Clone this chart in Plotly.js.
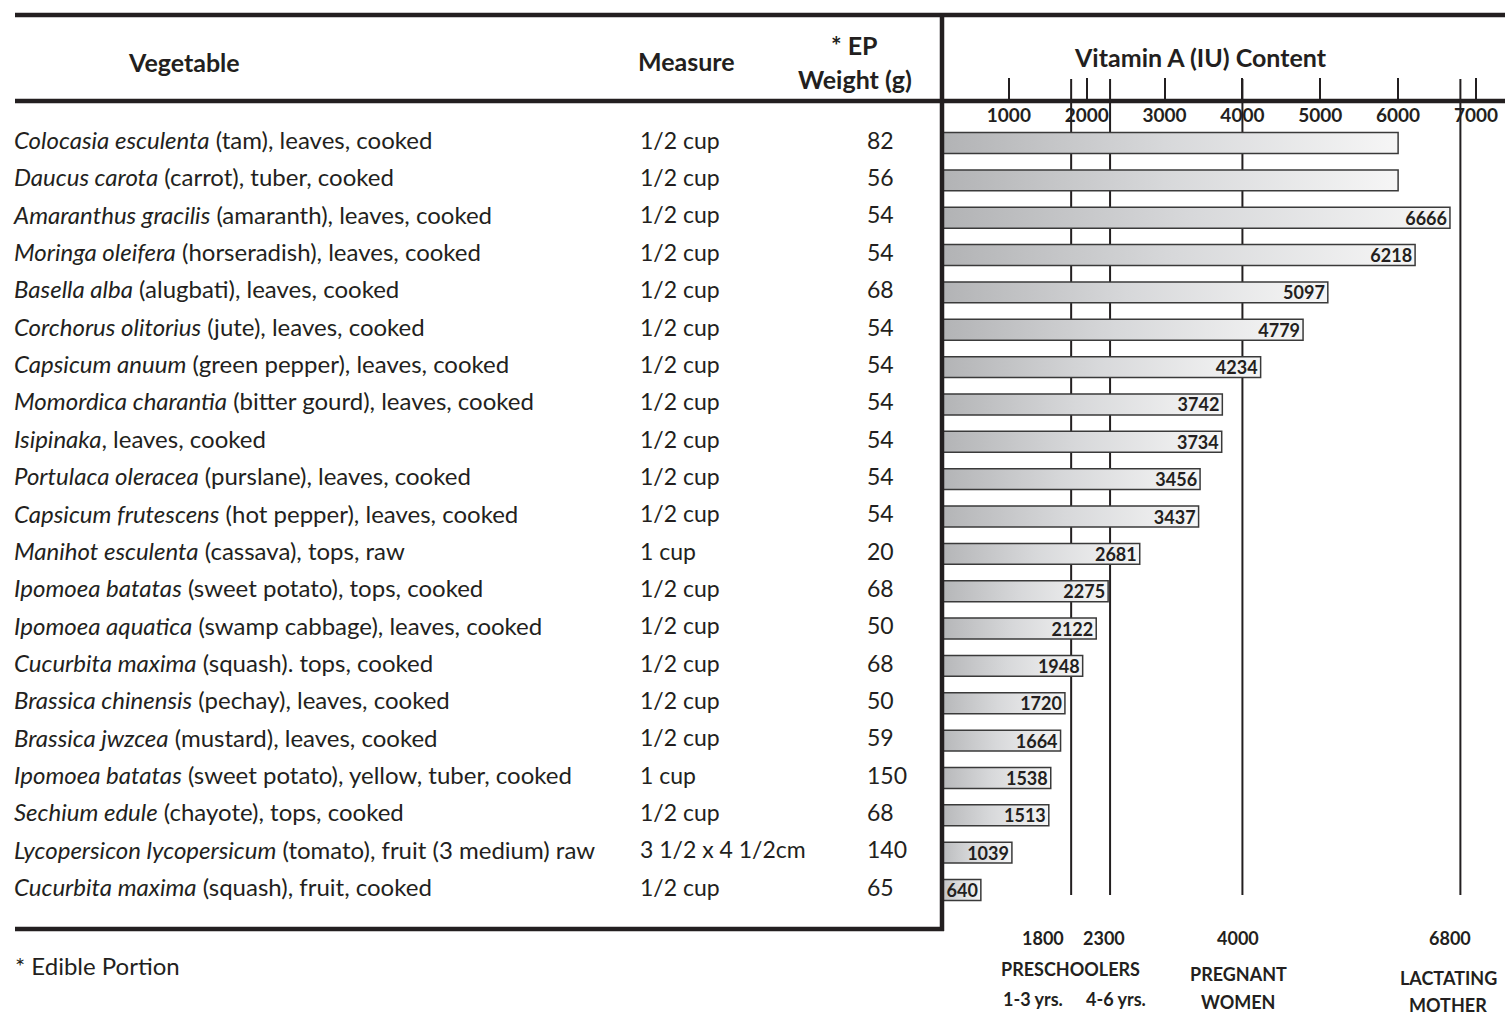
<!DOCTYPE html>
<html><head><meta charset="utf-8">
<script src="https://cdn.plot.ly/plotly-3.0.1.min.js"></script>
<style>html,body{margin:0;padding:0;background:#fff}#chart{width:1505px;height:1017px}</style>
</head><body><div id="chart"></div>
<script>
// ---- data ----
const scientificNames = ["Colocasia esculenta","Daucus carota","Amaranthus gracilis","Moringa oleifera","Basella alba","Corchorus olitorius","Capsicum anuum","Momordica charantia","Isipinaka","Portulaca oleracea","Capsicum frutescens","Manihot esculenta","Ipomoea batatas","Ipomoea aquatica","Cucurbita maxima","Brassica chinensis","Brassica jwzcea","Ipomoea batatas","Sechium edule","Lycopersicon lycopersicum","Cucurbita maxima"];
const descriptions = [" (tam), leaves, cooked"," (carrot), tuber, cooked"," (amaranth), leaves, cooked"," (horseradish), leaves, cooked"," (alugbati), leaves, cooked"," (jute), leaves, cooked"," (green pepper), leaves, cooked"," (bitter gourd), leaves, cooked",", leaves, cooked"," (purslane), leaves, cooked"," (hot pepper), leaves, cooked"," (cassava), tops, raw"," (sweet potato), tops, cooked"," (swamp cabbage), leaves, cooked"," (squash). tops, cooked"," (pechay), leaves, cooked"," (mustard), leaves, cooked"," (sweet potato), yellow, tuber, cooked"," (chayote), tops, cooked"," (tomato), fruit (3 medium) raw"," (squash), fruit, cooked"];
const measures = ["1/2 cup","1/2 cup","1/2 cup","1/2 cup","1/2 cup","1/2 cup","1/2 cup","1/2 cup","1/2 cup","1/2 cup","1/2 cup","1 cup","1/2 cup","1/2 cup","1/2 cup","1/2 cup","1/2 cup","1 cup","1/2 cup","3 1/2 x 4 1/2cm","1/2 cup"];
const epWeights = [82,56,54,54,68,54,54,54,54,54,54,20,68,50,68,50,59,150,68,140,65];
const vitaminA = [6000,6000,6666,6218,5097,4779,4234,3742,3734,3456,3437,2681,2275,2122,1948,1720,1664,1538,1513,1039,640];
const barLabels = ["","","6666","6218","5097","4779","4234","3742","3734","3456","3437","2681","2275","2122","1948","1720","1664","1538","1513","1039","640"];
const axisTicks = [1000,2000,3000,4000,5000,6000,7000];
const refValues = [1800,2300,4000,6800];
const refValueLabels = ["1800","2300","4000","6800"];

// ---- layout helpers ----
const W = 1505, H = 1017;
const px = x => x / W;            // horizontal pixel -> paper
const py = y => 1 - y / H;        // vertical pixel -> paper
const INK = '#231f20';
const FONT = 'Lato, "Open Sans", sans-serif';
const rows = vitaminA.map((_, i) => i);
const rowStep = 37.35, row0 = 143, plotTop = 101, plotBottom = 930;
const vegLabels = scientificNames.map((s, i) => '<i>' + s + '</i>' + descriptions[i]);

const vegFont = {family: FONT, size: 24, color: INK};
const numFont = {family: FONT, size: 23, color: INK};

const traces = [
  {type: 'bar', orientation: 'h', x: vitaminA, y: rows, width: 0.56,
   marker: {color: '#d3d4d6', line: {color: '#3a3a3a', width: 1.5}},
   text: barLabels, textposition: 'inside', insidetextanchor: 'end', textangle: 0,
   constraintext: 'none', cliponaxis: true,
   textfont: {family: FONT, size: 18, color: INK, weight: 'bold'},
   hoverinfo: 'skip', showlegend: false},
  {type: 'scatter', mode: 'text', xaxis: 'x2', yaxis: 'y', x: rows.map(() => 14), y: rows,
   text: vegLabels, textposition: 'middle right', textfont: vegFont, cliponaxis: false, hoverinfo: 'skip', showlegend: false},
  {type: 'scatter', mode: 'text', xaxis: 'x2', yaxis: 'y', x: rows.map(() => 640), y: rows,
   text: measures, textposition: 'middle right', textfont: numFont, cliponaxis: false, hoverinfo: 'skip', showlegend: false},
  {type: 'scatter', mode: 'text', xaxis: 'x2', yaxis: 'y', x: rows.map(() => 867), y: rows,
   text: epWeights.map(String), textposition: 'middle right', textfont: numFont, cliponaxis: false, hoverinfo: 'skip', showlegend: false}
];

const shapes = [];
const thick = (x0, y0, x1, y1) => shapes.push({type: 'line', xref: 'paper', yref: 'paper', x0: px(x0), y0: py(y0), x1: px(x1), y1: py(y1), line: {color: INK, width: 4.5}, layer: 'above'});
refValues.forEach(v => shapes.push({type: 'line', xref: 'x', yref: 'paper', x0: v, x1: v, y0: py(79), y1: py(895), line: {color: INK, width: 2}, layer: 'below'}));
thick(15, 15, 1505, 15);
thick(15, 101, 1505, 101);
thick(942, 13, 942, 931);
thick(15, 929, 944, 929);

const boldAnn = (text, x, y, size) => ({text: '<b>' + text + '</b>', xref: 'paper', yref: 'paper', x: px(x), y: py(y), showarrow: false, xanchor: 'center', yanchor: 'middle', font: {family: FONT, size: size, color: INK}});
const annotations = [
  boldAnn('Vegetable', 184, 62, 25),
  boldAnn('Measure', 686, 61, 25),
  boldAnn('* EP', 855, 45, 25),
  boldAnn('Weight (g)', 855, 79, 25),
  boldAnn('Vitamin A (IU) Content', 1200, 57, 25),
  {text: '* Edible Portion', xref: 'paper', yref: 'paper', x: px(13), y: py(965), showarrow: false, xanchor: 'left', yanchor: 'middle', font: {family: FONT, size: 24, color: INK}}
];
const refAnn = (text, xv, shift, y) => ({text: '<b>' + text + '</b>', xref: 'x', yref: 'paper', x: xv, xshift: shift, y: py(y), showarrow: false, xanchor: 'center', yanchor: 'middle', font: {family: FONT, size: 18, color: INK}});
const refShift = [-28, -6, -4, -10];
refValues.forEach((v, i) => annotations.push(refAnn(refValueLabels[i], v, refShift[i], 938)));
annotations.push(refAnn('PRESCHOOLERS', (refValues[0] + refValues[1]) / 2, -20, 969));
annotations.push(refAnn('1-3 yrs.', refValues[0], -38, 999));
annotations.push(refAnn('4-6 yrs.', refValues[1], 6, 999));
annotations.push(refAnn('PREGNANT', refValues[2], -4, 974));
annotations.push(refAnn('WOMEN', refValues[2], -4, 1002));
annotations.push(refAnn('LACTATING', refValues[3], -12, 978));
annotations.push(refAnn('MOTHER', refValues[3], -12, 1005));

const layout = {
  width: W, height: H, margin: {l: 0, r: 0, t: 0, b: 0},
  paper_bgcolor: '#fff', plot_bgcolor: 'rgba(0,0,0,0)',
  font: {family: FONT, color: INK},
  bargap: 0,
  xaxis: {domain: [px(942), 1], range: [141, 7373], side: 'top', tickmode: 'array', tickvals: axisTicks,
          ticktext: axisTicks.map(String), ticks: 'outside', ticklen: 22, tickwidth: 2, tickcolor: INK,
          ticklabelposition: 'inside', ticklabelstandoff: 5, tickfont: {family: FONT, size: 19, color: INK, weight: 'bold'},
          showgrid: false, zeroline: false, showline: false, fixedrange: true},
  xaxis2: {domain: [0, px(942)], range: [0, 942], visible: false, fixedrange: true},
  yaxis: {domain: [py(plotBottom), py(plotTop)], range: [(plotBottom - row0) / rowStep, (plotTop - row0) / rowStep],
          visible: false, fixedrange: true},
  shapes: shapes, annotations: annotations
};

Plotly.newPlot('chart', traces, layout, {staticPlot: true, displayModeBar: false}).then(gd => {
  const ns = 'http://www.w3.org/2000/svg';
  const svg = gd.querySelector('.main-svg');
  let defs = svg.querySelector('defs');
  if (!defs) { defs = document.createElementNS(ns, 'defs'); svg.insertBefore(defs, svg.firstChild); }
  const lg = document.createElementNS(ns, 'linearGradient');
  lg.setAttribute('id', 'barGrad');
  lg.setAttribute('x1', '0'); lg.setAttribute('x2', '1'); lg.setAttribute('y1', '0'); lg.setAttribute('y2', '0');
  [['0%', '#b0b1b3'], ['50%', '#d7d8da'], ['100%', '#f6f6f6']].forEach(([o, c]) => {
    const s = document.createElementNS(ns, 'stop'); s.setAttribute('offset', o); s.setAttribute('stop-color', c); lg.appendChild(s);
  });
  defs.appendChild(lg);
  gd.querySelectorAll('.barlayer .point path').forEach(p => { p.style.fill = 'url(#barGrad)'; });
});
</script>
</body></html>
